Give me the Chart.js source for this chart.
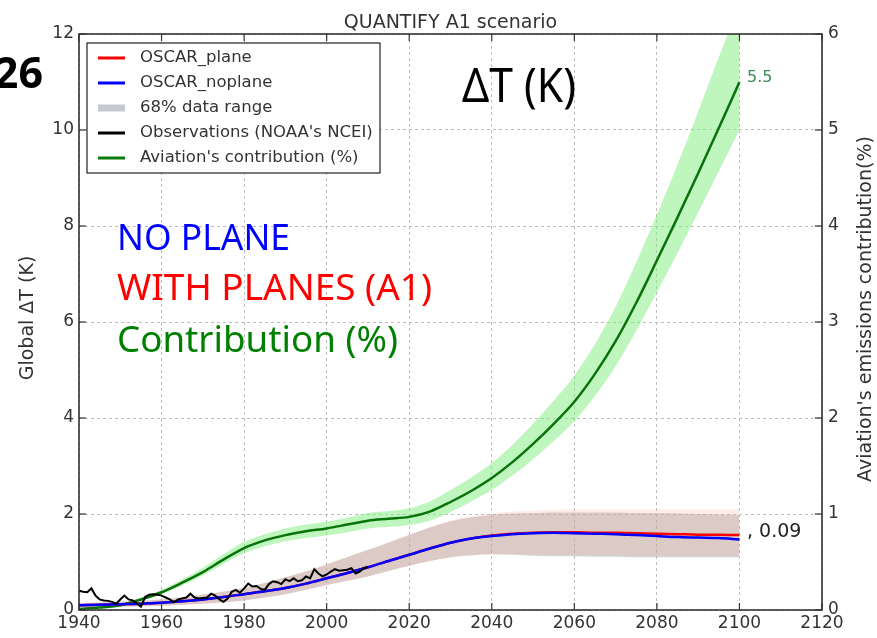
<!DOCTYPE html>
<html>
<head>
<meta charset="utf-8">
<script src="https://cdn.jsdelivr.net/npm/chart.js@4.4.1/dist/chart.umd.min.js"></script>
<style>
  html, body { margin: 0; padding: 0; background: #fff; }
  #wrap { width: 877px; height: 638px; position: relative; }
</style>
</head>
<body>
<div id="wrap"><canvas id="chart"></canvas></div>
<script>
// --- data ---

const years = [1940, 1945, 1950, 1955, 1960, 1965, 1970, 1975, 1980, 1985, 1990, 1995, 2000, 2005, 2010, 2015, 2020,
  2025, 2030, 2035, 2040, 2045, 2050, 2055, 2060, 2065, 2070, 2075, 2080, 2085, 2090, 2095, 2100];

// global dT (K), left axis
const noplane = [0.10, 0.11, 0.12, 0.13, 0.15, 0.18, 0.22, 0.27, 0.33, 0.39, 0.46, 0.55, 0.66, 0.77, 0.89, 1.02, 1.15,
  1.28, 1.40, 1.49, 1.54, 1.58, 1.60, 1.61, 1.60, 1.59, 1.58, 1.56, 1.54, 1.52, 1.51, 1.50, 1.47];
const plane = [0.10, 0.11, 0.12, 0.13, 0.15, 0.18, 0.22, 0.27, 0.33, 0.39, 0.46, 0.55, 0.66, 0.77, 0.89, 1.02, 1.15,
  1.28, 1.40, 1.49, 1.55, 1.59, 1.61, 1.62, 1.62, 1.61, 1.61, 1.60, 1.59, 1.58, 1.57, 1.57, 1.56];

// 68% ranges
const noplaneLow = [0.06, 0.065, 0.07, 0.08, 0.09, 0.11, 0.13, 0.16, 0.20, 0.26, 0.33, 0.42, 0.52, 0.61, 0.70, 0.81, 0.92,
  1.02, 1.10, 1.14, 1.16, 1.15, 1.13, 1.12, 1.12, 1.11, 1.11, 1.10, 1.10, 1.10, 1.10, 1.10, 1.10];
const noplaneHigh = [0.14, 0.15, 0.17, 0.19, 0.22, 0.26, 0.32, 0.38, 0.46, 0.56, 0.68, 0.80, 0.95, 1.10, 1.25, 1.40, 1.56,
  1.72, 1.85, 1.93, 1.98, 2.01, 2.02, 2.03, 2.03, 2.03, 2.03, 2.02, 2.02, 2.01, 2.00, 1.99, 1.98];
const planeLow = [0.06, 0.065, 0.07, 0.08, 0.09, 0.11, 0.13, 0.16, 0.20, 0.26, 0.33, 0.42, 0.52, 0.61, 0.70, 0.81, 0.92,
  1.02, 1.10, 1.14, 1.16, 1.17, 1.16, 1.15, 1.15, 1.15, 1.15, 1.14, 1.14, 1.14, 1.14, 1.14, 1.14];
const planeHigh = [0.15, 0.16, 0.18, 0.20, 0.23, 0.27, 0.33, 0.39, 0.47, 0.57, 0.69, 0.81, 0.96, 1.11, 1.26, 1.41, 1.57,
  1.73, 1.86, 1.95, 2.01, 2.05, 2.07, 2.09, 2.10, 2.10, 2.10, 2.10, 2.10, 2.10, 2.10, 2.10, 2.10];

// aviation's contribution (%), right axis
const contrib = [0.01, 0.025, 0.05, 0.11, 0.185, 0.285, 0.395, 0.525, 0.645, 0.725, 0.78, 0.82, 0.85, 0.89, 0.93, 0.95, 0.97,
  1.025, 1.125, 1.24, 1.375, 1.54, 1.73, 1.94, 2.17, 2.46, 2.80, 3.20, 3.64, 4.09, 4.55, 5.02, 5.5];
const contribLow = [0.0, 0.015, 0.035, 0.09, 0.165, 0.255, 0.36, 0.48, 0.59, 0.665, 0.715, 0.75, 0.775, 0.81, 0.85, 0.865, 0.885,
  0.93, 1.02, 1.13, 1.25, 1.40, 1.57, 1.76, 1.97, 2.23, 2.54, 2.91, 3.31, 3.72, 4.14, 4.57, 5.0];
const contribHigh = [0.02, 0.035, 0.065, 0.13, 0.21, 0.32, 0.44, 0.58, 0.71, 0.79, 0.85, 0.89, 0.92, 0.96, 1.01, 1.03, 1.06,
  1.13, 1.25, 1.38, 1.53, 1.72, 1.94, 2.18, 2.44, 2.77, 3.16, 3.62, 4.12, 4.64, 5.19, 5.76, 6.3];

// NOAA NCEI observations
const obsYears = [1940, 1941, 1942, 1943, 1944, 1945, 1946, 1947, 1948, 1949, 1950, 1951, 1952, 1953, 1954, 1955, 1956, 1957,
  1958, 1959, 1960, 1961, 1962, 1963, 1964, 1965, 1966, 1967, 1968, 1969, 1970, 1971, 1972, 1973, 1974, 1975, 1976, 1977,
  1978, 1979, 1980, 1981, 1982, 1983, 1984, 1985, 1986, 1987, 1988, 1989, 1990, 1991, 1992, 1993, 1994, 1995, 1996, 1997,
  1998, 1999, 2000, 2001, 2002, 2003, 2004, 2005, 2006, 2007, 2008, 2009, 2010];
const obs = [0.40, 0.38, 0.37, 0.45, 0.30, 0.22, 0.20, 0.19, 0.17, 0.13, 0.22, 0.30, 0.22, 0.20, 0.14, 0.07, 0.27, 0.32,
  0.33, 0.32, 0.30, 0.26, 0.22, 0.16, 0.22, 0.24, 0.26, 0.34, 0.26, 0.24, 0.25, 0.26, 0.34, 0.30, 0.22, 0.17, 0.24, 0.38,
  0.42, 0.36, 0.45, 0.55, 0.49, 0.50, 0.44, 0.42, 0.54, 0.60, 0.58, 0.54, 0.64, 0.60, 0.66, 0.60, 0.62, 0.70, 0.66, 0.85,
  0.76, 0.70, 0.74, 0.80, 0.85, 0.82, 0.83, 0.84, 0.87, 0.76, 0.80, 0.87, 0.90];

const xTicks = { min: 1940, max: 2120, step: 20 };
const yTicks = { min: 0, max: 12, step: 2 };
const y1Ticks = { min: 0, max: 6, step: 1 };

const legendLabels = ['OSCAR_plane', 'OSCAR_noplane', '68% data range', "Observations (NOAA's NCEI)", "Aviation's contribution (%)"];

// --- helpers ---

const pts = (xs, ys) => xs.map((x, i) => ({ x: x, y: ys[i] }));

function band(label, ys, axis, fill, color) {
  return {
    label: label, data: pts(years, ys), yAxisID: axis, borderWidth: 0, pointRadius: 0,
    fill: fill, backgroundColor: color, cubicInterpolationMode: 'monotone', order: 10
  };
}

function line(label, xs, ys, axis, color, width, order, smooth) {
  return {
    label: label, data: pts(xs, ys), yAxisID: axis, borderColor: color, borderWidth: width,
    pointRadius: 0, fill: false, order: order, cubicInterpolationMode: smooth ? 'monotone' : 'default', tension: 0
  };
}

// draws text squeezed/stretched to a target width (the original used Calibri)
function fitText(ctx, text, x, y, width, font, color) {
  ctx.font = font;
  const w = ctx.measureText(text).width;
  ctx.save();
  ctx.translate(x, y);
  ctx.scale(width / w, 1);
  ctx.fillStyle = color;
  ctx.textAlign = 'left';
  ctx.textBaseline = 'alphabetic';
  ctx.fillText(text, 0, 0);
  ctx.restore();
}

const decor = {
  id: 'decor',
  afterDraw(chart) {
    const { ctx, chartArea: a, scales } = chart;
    ctx.save();

    // inward ticks
    ctx.strokeStyle = '#333';
    ctx.lineWidth = 1.2;
    const seg = (x1, y1, x2, y2) => { ctx.beginPath(); ctx.moveTo(x1, y1); ctx.lineTo(x2, y2); ctx.stroke(); };
    scales.x.ticks.forEach(t => {
      const x = scales.x.getPixelForValue(t.value);
      seg(x, a.bottom, x, a.bottom - 7);
      seg(x, a.top, x, a.top + 7);
    });
    scales.y.ticks.forEach(t => {
      const y = scales.y.getPixelForValue(t.value);
      seg(a.left, y, a.left + 7, y);
    });
    scales.y1.ticks.forEach(t => {
      const y = scales.y1.getPixelForValue(t.value);
      seg(a.right, y, a.right - 7, y);
    });

    // frame
    ctx.lineWidth = 1.6;
    ctx.strokeStyle = '#333';
    ctx.strokeRect(a.left, a.top, a.right - a.left, a.bottom - a.top);

    // title
    ctx.fillStyle = '#333';
    ctx.font = '19px "DejaVu Sans"';
    ctx.textAlign = 'center';
    ctx.textBaseline = 'alphabetic';
    ctx.fillText('QUANTIFY A1 scenario', (a.left + a.right) / 2, 28);

    // axis titles
    ctx.save();
    ctx.translate(28, 318);
    ctx.rotate(-Math.PI / 2);
    ctx.textBaseline = 'middle';
    ctx.fillText('Global \u0394T (K)', 0, 0);
    ctx.restore();
    ctx.save();
    ctx.translate(866, 309);
    ctx.rotate(-Math.PI / 2);
    ctx.textBaseline = 'middle';
    ctx.fillText("Aviation's emissions contribution(%)", 0, 0);
    ctx.restore();

    // end-of-line notes
    ctx.textAlign = 'left';
    ctx.font = '16px "DejaVu Sans"';
    ctx.fillStyle = '#3d8b5a';
    ctx.fillText('5.5', 747, 82);
    ctx.font = '19px "DejaVu Sans"';
    ctx.fillStyle = '#222';
    ctx.fillText(', 0.09', 747, 537);

    // overlaid slide texts
    fitText(ctx, '\u0394T (K)', 462, 102, 114, '48px "Noto Sans"', '#000');
    fitText(ctx, 'NO PLANE', 117, 250, 173, '37px "Noto Sans"', '#0000ff');
    fitText(ctx, 'WITH PLANES (A1)', 117, 300, 315, '36px "Noto Sans"', '#ff0000');
    fitText(ctx, 'Contribution (%)', 117, 352, 281, '37px "Noto Sans"', '#008000');
    ctx.font = 'bold 43px "Noto Sans"';
    ctx.fillStyle = '#000';
    ctx.textAlign = 'right';
    ctx.fillText('26', 43, 88);

    // legend
    const lx = 87, ly = 43;
    ctx.fillStyle = '#fff';
    ctx.fillRect(lx, ly, 293, 130);
    ctx.strokeStyle = '#222';
    ctx.lineWidth = 1.2;
    ctx.strokeRect(lx, ly, 293, 130);
    const swatch = [['#ff0000', 3], ['#0000ff', 3], ['#c6c9d2', 7], ['#000000', 3], ['#0a7a0a', 3]];
    ctx.font = '16.5px "DejaVu Sans"';
    ctx.textAlign = 'left';
    ctx.textBaseline = 'middle';
    legendLabels.forEach((lab, i) => {
      const y = 58 + i * 25;
      ctx.strokeStyle = swatch[i][0];
      ctx.lineWidth = swatch[i][1];
      seg(98, y, 125, y);
      ctx.fillStyle = '#333';
      ctx.fillText(lab, 140, y);
    });

    ctx.restore();
  }
};

const tickFont = { family: '"DejaVu Sans"', size: 17 };

new Chart(document.getElementById('chart'), {
  type: 'line',
  data: {
    datasets: [
      band('contribLow', contribLow, 'y1', false, 'transparent'),
      band('contribHigh', contribHigh, 'y1', '-1', 'rgba(125, 238, 125, 0.5)'),
      band('planeLow', planeLow, 'y', false, 'transparent'),
      band('planeHigh', planeHigh, 'y', '-1', 'rgba(245, 165, 150, 0.2)'),
      band('noplaneLow', noplaneLow, 'y', false, 'transparent'),
      band('noplaneHigh', noplaneHigh, 'y', '-1', 'rgba(170, 168, 166, 0.5)'),
      line(legendLabels[4], years, contrib, 'y1', '#0a720a', 2.5, 5, true),
      line(legendLabels[0], years, plane, 'y', '#ff0000', 2.5, 4, true),
      line(legendLabels[1], years, noplane, 'y', '#0000ff', 2.5, 3, true),
      line(legendLabels[3], obsYears, obs, 'y', '#000000', 2, 2, false)
    ]
  },
  options: {
    responsive: true,
    maintainAspectRatio: false,
    animation: false,
    devicePixelRatio: 1,
    events: [],
    layout: { padding: { top: 34, left: 0, right: 0, bottom: 0 } },
    plugins: { legend: { display: false }, tooltip: { enabled: false }, title: { display: false } },
    scales: {
      x: {
        type: 'linear', min: xTicks.min, max: xTicks.max,
        ticks: { stepSize: xTicks.step, font: tickFont, color: '#333', padding: 3, maxRotation: 0, callback: v => String(v) },
        grid: { color: '#bdbdbd', lineWidth: 1, drawTicks: false },
        border: { display: false, dash: [3, 3] },
        afterFit: s => { s.height = 28; }
      },
      y: {
        position: 'left', min: yTicks.min, max: yTicks.max,
        ticks: { stepSize: yTicks.step, font: tickFont, color: '#333', padding: 5, callback: v => String(v) },
        grid: { color: '#bdbdbd', lineWidth: 1, drawTicks: false },
        border: { display: false, dash: [3, 3] },
        afterFit: s => { s.width = 79; }
      },
      y1: {
        position: 'right', min: y1Ticks.min, max: y1Ticks.max,
        ticks: { stepSize: y1Ticks.step, font: tickFont, color: '#333', padding: 6, callback: v => String(v) },
        grid: { display: false, drawTicks: false },
        border: { display: false },
        afterFit: s => { s.width = 55; }
      }
    }
  },
  plugins: [decor]
});
</script>
</body>
</html>
